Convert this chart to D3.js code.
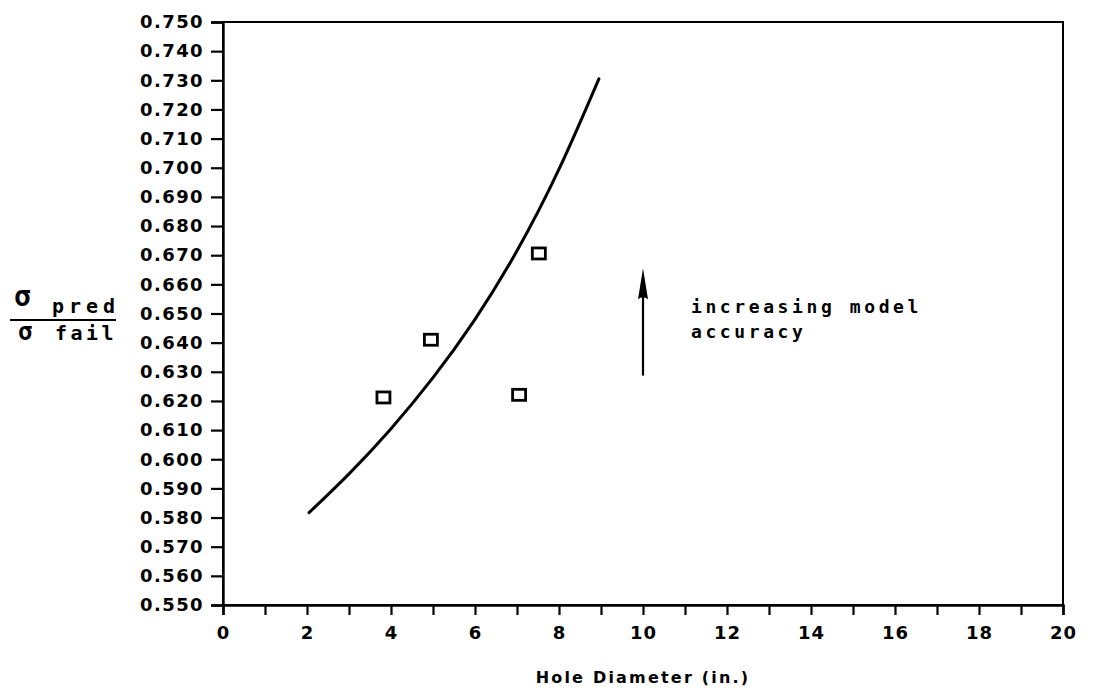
<!DOCTYPE html>
<html>
<head>
<meta charset="utf-8">
<script src="https://cdn.jsdelivr.net/npm/d3@7/dist/d3.min.js"></script>
<style>
  html, body { margin: 0; padding: 0; background: #fff; }
  svg { display: block; }
  .tick text { font-family: "DejaVu Sans", sans-serif; font-weight: bold; fill: #000; }
</style>
</head>
<body>
<svg id="chart" width="1096" height="692"></svg>
<script>
// Predicted / failure stress ratio vs. hole diameter
const xTicks = d3.range(0, 21, 1);
const xTickLabels = [0, 2, 4, 6, 8, 10, 12, 14, 16, 18, 20];
const yTicks = d3.range(0.55, 0.7501, 0.01).map(v => +v.toFixed(3));

// model prediction curve
const curveDiameter = [2.05, 3, 4, 5, 6, 7, 8, 8.95];
const curveRatio    = [0.5817, 0.595, 0.6105, 0.628, 0.648, 0.6715, 0.6995, 0.7305];

// test results
const testDiameter = [3.82, 4.95, 7.05, 7.52];
const testRatio    = [0.6212, 0.6410, 0.6221, 0.6706];

// "increasing model accuracy" arrow
const arrowDiameter = 10;
const arrowFrom = 0.6287;
const arrowTo = 0.6655;
const noteLines = ["increasing model", "accuracy"];

const svg = d3.select("#chart");
const plotLeft = 223, plotRight = 1063, plotTop = 22, plotBottom = 605;

const x = d3.scaleLinear().domain([0, 20]).range([plotLeft, plotRight]);
const y = d3.scaleLinear().domain([0.55, 0.75]).range([plotBottom, plotTop]);

// frame
svg.append("rect")
  .attr("x", plotLeft).attr("y", plotTop)
  .attr("width", plotRight - plotLeft).attr("height", plotBottom - plotTop)
  .attr("fill", "none").attr("stroke", "#000").attr("stroke-width", 2);

// y axis
const yAxis = svg.append("g")
  .attr("transform", `translate(${plotLeft},0)`)
  .call(d3.axisLeft(y).tickValues(yTicks).tickFormat(d3.format(".3f")).tickSize(12).tickPadding(7));
yAxis.select(".domain").attr("stroke-width", 2.4);
yAxis.selectAll(".tick line").attr("stroke-width", 2.2);
yAxis.selectAll(".tick text").style("font-size", "18px").style("letter-spacing", "1.4px");

// x axis
const xAxis = svg.append("g")
  .attr("transform", `translate(0,${plotBottom})`)
  .call(d3.axisBottom(x).tickValues(xTicks)
    .tickFormat(d => xTickLabels.includes(d) ? d : "")
    .tickSize(10).tickPadding(11));
xAxis.select(".domain").attr("stroke-width", 2.4);
xAxis.selectAll(".tick line").attr("stroke-width", 2.2);
xAxis.selectAll(".tick text").style("font-size", "18px").style("letter-spacing", "1px");

// x axis title
svg.append("text")
  .attr("x", 643).attr("y", 683)
  .attr("text-anchor", "middle")
  .style("font-family", "DejaVu Sans, sans-serif")
  .style("font-weight", "bold")
  .style("font-size", "16px")
  .style("letter-spacing", "2.2px")
  .text("Hole Diameter (in.)");

// y axis title: sigma_pred / sigma_fail
const yt = svg.append("g").style("font-family", "DejaVu Sans Mono, monospace").style("font-weight", "bold");
yt.append("text").attr("x", 14).attr("y", 306).style("font-size", "28px").text("σ");
yt.append("text").attr("x", 52).attr("y", 313).style("font-size", "20px").style("letter-spacing", "5px").text("pred");
yt.append("line").attr("x1", 10).attr("x2", 116).attr("y1", 320).attr("y2", 320)
  .attr("stroke", "#000").attr("stroke-width", 2);
yt.append("text").attr("x", 18).attr("y", 340).style("font-size", "24px").text("σ");
yt.append("text").attr("x", 55).attr("y", 340).style("font-size", "20px").style("letter-spacing", "3.5px").text("fail");

// prediction curve
const line = d3.line().x(d => x(d[0])).y(d => y(d[1])).curve(d3.curveNatural);
svg.append("path")
  .datum(d3.zip(curveDiameter, curveRatio))
  .attr("d", line)
  .attr("fill", "none").attr("stroke", "#000").attr("stroke-width", 3)
  .attr("stroke-linecap", "round");

// test points (open squares)
svg.append("g").selectAll("rect")
  .data(d3.zip(testDiameter, testRatio))
  .join("rect")
  .attr("x", d => x(d[0]) - 6.5)
  .attr("y", d => y(d[1]) - 5.5)
  .attr("width", 13).attr("height", 11)
  .attr("fill", "none").attr("stroke", "#000").attr("stroke-width", 2.8);

// arrow
const ax = x(arrowDiameter);
svg.append("line")
  .attr("x1", ax).attr("x2", ax)
  .attr("y1", y(arrowFrom)).attr("y2", y(arrowTo) + 10)
  .attr("stroke", "#000").attr("stroke-width", 2.2);
const tipY = y(arrowTo);
svg.append("path")
  .attr("d", `M${ax},${tipY} L${ax + 5},${tipY + 31} Q${ax},${tipY + 27} ${ax - 5},${tipY + 31} Z`)
  .attr("fill", "#000");

// note
svg.append("g").selectAll("text")
  .data(noteLines)
  .join("text")
  .attr("x", 691)
  .attr("y", (d, i) => 313 + i * 25)
  .style("font-family", "DejaVu Sans Mono, monospace")
  .style("font-weight", "bold")
  .style("font-size", "18px")
  .style("letter-spacing", "3.6px")
  .text(d => d);
</script>
</body>
</html>
